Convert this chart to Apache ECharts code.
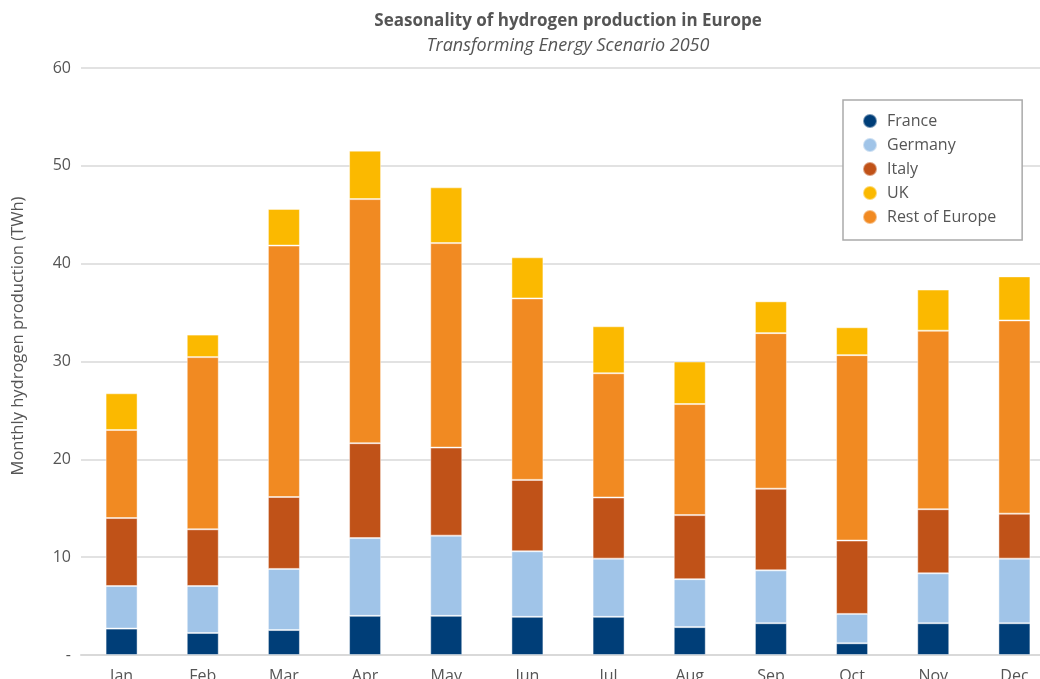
<!DOCTYPE html>
<html>
<head>
<meta charset="utf-8">
<script src="https://cdn.jsdelivr.net/npm/echarts@6/dist/echarts.min.js"></script>
<style>
  html, body { margin: 0; padding: 0; background: #fff; overflow: hidden; }
  /* plot runs past the right edge of the window in the original */
  #main { width: 1055px; height: 679px; }
</style>
</head>
<body>
<div id="main"></div>
<script>
const months = ["Jan", "Feb", "Mar", "Apr", "May", "Jun", "Jul", "Aug", "Sep", "Oct", "Nov", "Dec"];
const yTicks = [0, 10, 20, 30, 40, 50, 60];

// TWh per month
const france  = [2.7, 2.25, 2.55, 4.0, 4.0, 3.9, 3.9, 2.85, 3.25, 1.2, 3.25, 3.25];
const germany = [4.35, 4.8, 6.25, 7.95, 8.2, 6.7, 5.95, 4.9, 5.4, 3.0, 5.1, 6.6];
const italy   = [6.95, 5.8, 7.35, 9.7, 9.0, 7.3, 6.25, 6.55, 8.35, 7.5, 6.55, 4.6];
const restOfEurope = [9.0, 17.6, 25.7, 24.95, 20.9, 18.55, 12.7, 11.35, 15.9, 18.95, 18.25, 19.75];
const uk      = [3.75, 2.3, 3.75, 4.95, 5.7, 4.2, 4.8, 4.35, 3.25, 2.85, 4.2, 4.5];

const font = "'Open Sans', sans-serif";
const textColor = "#555";

const chart = echarts.init(document.getElementById("main"));

function barSeries(name, data, color) {
  return {
    name: name,
    type: "bar",
    stack: "total",
    data: data,
    barWidth: 32,
    itemStyle: {
      color: color,
      borderColor: "rgba(255,255,255,0.45)",
      borderWidth: 1,
    },
  };
}

const option = {
  animation: false,
  textStyle: { fontFamily: font },
  title: [
    {
      text: "Seasonality of hydrogen production in Europe",
      left: 563,
      top: 8,
      textAlign: "center",
      textStyle: { fontFamily: font, fontSize: 17, fontWeight: "bold", color: textColor },
    },
    {
      text: "Transforming Energy Scenario 2050",
      left: 563,
      top: 32,
      textAlign: "center",
      textStyle: { fontFamily: font, fontSize: 18, fontStyle: "italic", fontWeight: "normal", color: textColor },
    },
  ],
  legend: {
    orient: "vertical",
    left: 843,
    top: 100,
    padding: [13, 26, 15, 19],
    itemGap: 8,
    itemWidth: 14,
    itemHeight: 14,
    icon: "circle",
    backgroundColor: "#fff",
    borderColor: "#aaa",
    borderWidth: 1.5,
    borderRadius: 0,
    data: ["France", "Germany", "Italy", "UK", "Rest of Europe"],
    textStyle: { fontFamily: font, fontSize: 16, lineHeight: 16, color: textColor, padding: [0, 0, 0, 5] },
  },
  grid: {
    left: 81,
    right: 0,
    top: 68,
    bottom: 24,
    outerBoundsMode: "none",
  },
  graphic: [
    {
      type: "text",
      x: 18,
      y: 336,
      rotation: Math.PI / 2,
      style: {
        text: "Monthly hydrogen production (TWh)",
        fontFamily: font,
        fontSize: 16.5,
        fill: textColor,
        textAlign: "center",
        textVerticalAlign: "middle",
      },
    },
  ],
  xAxis: {
    type: "category",
    data: months,
    axisLine: { lineStyle: { color: "#d9d9d9", width: 2 } },
    axisTick: { show: false },
    axisLabel: { fontFamily: font, fontSize: 16, color: textColor, margin: 13 },
  },
  yAxis: {
    type: "value",
    min: yTicks[0],
    max: yTicks[yTicks.length - 1],
    interval: 10,
    axisLine: { show: false },
    axisTick: { show: false },
    splitLine: { lineStyle: { color: "#d9d9d9", width: 1.5 } },
    axisLabel: {
      fontFamily: font,
      fontSize: 16,
      color: textColor,
      margin: 10,
      formatter: function (v) {
        return v === 0 ? "-" : String(v);
      },
    },
  },
  series: [
    barSeries("France", france, "#003E78"),
    barSeries("Germany", germany, "#A0C4E8"),
    barSeries("Italy", italy, "#C05218"),
    barSeries("Rest of Europe", restOfEurope, "#F18A22"),
    barSeries("UK", uk, "#FBB900"),
  ],
};

chart.setOption(option);
</script>
</body>
</html>
